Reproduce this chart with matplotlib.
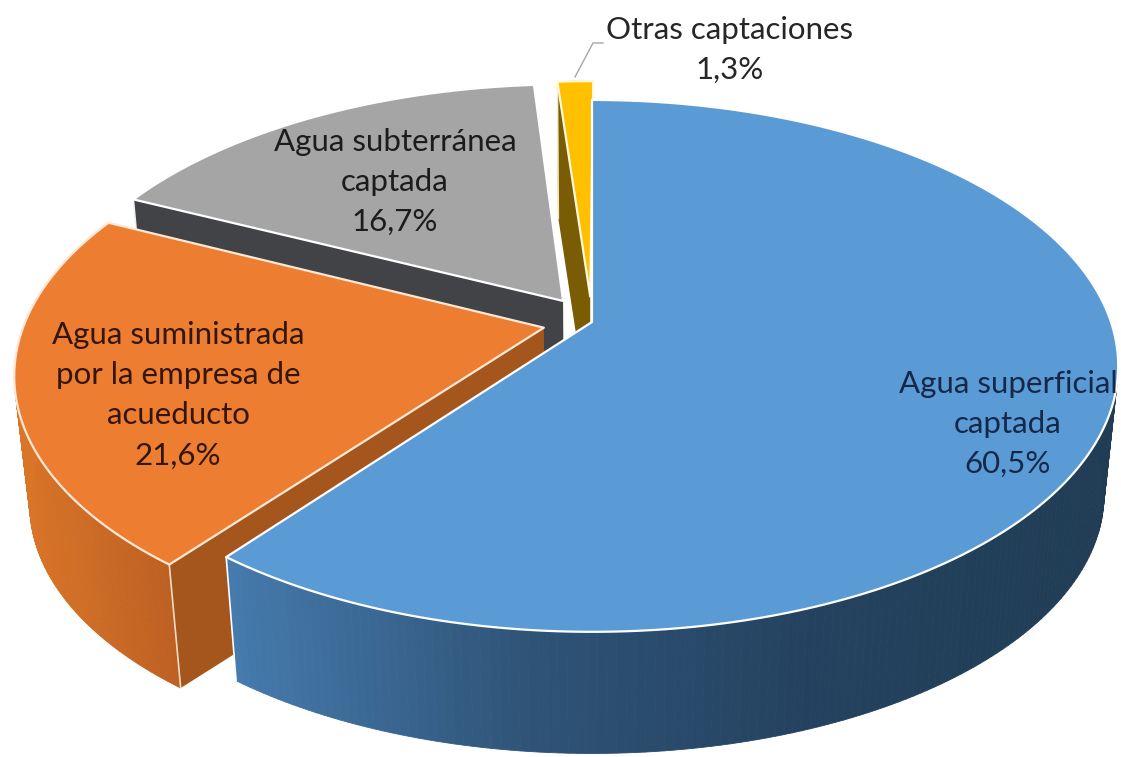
import numpy as np
import matplotlib
matplotlib.use('Agg')
import matplotlib.pyplot as plt
from matplotlib.collections import PolyCollection
from matplotlib.colors import LinearSegmentedColormap
from matplotlib.patches import Polygon

labels = ['Agua superficial\ncaptada\n60,5%',
          'Agua suministrada\npor la empresa de\nacueducto\n21,6%',
          'Agua subterránea\ncaptada\n16,7%',
          'Otras captaciones\n1,3%']
values = [60.5, 21.6, 16.7, 1.3]
explode = [0, 0.095, 0.1, 0.1]

top_colors = ['#5b9bd5', '#ed7d31', '#a5a5a5', '#ffc000']
wall_colors = ['#2c5070', '#a5561d', '#414347', '#7a5c05']
edge_colors = ['#ffffff', '#ffe9d6', '#ffffff', '#fff8e0']
text_colors = ['#14294a', '#33160a', '#1c1c1c', '#262626']
# rim shading from left to right of the picture
rim_colors = [['#467bae', '#2f5478', '#24425f', '#213d55'],
              ['#da7528', '#bd6022'],
              ['#7c7c7c', '#7c7c7c'],
              ['#bf9000', '#bf9000']]

CX, CY = 592, 322     # centre of the pie on the picture
SX, SY = 519, 258.7   # radii before perspective
W = 0.165             # perspective strength
DEPTH = 130           # thickness of the pie
SHRINK = 0.973        # lower face looks a bit smaller


def project(px, py, z=0.0):
    # px, py on the pie plane (radius 1), z = 0 top face, z = 1 lower face
    d = 1 + W * py
    x = CX + SX * px / d
    y = CY - SY * py / d
    s = 1 - (1 - SHRINK) * z
    return CX + (x - CX) * s, CY + (y - CY) * s + DEPTH * z


fig = plt.figure(figsize=(11.21, 7.57), dpi=100, facecolor='white')
ax = fig.add_axes([0, 0, 1, 1])
ax.set_xlim(0, 1121)
ax.set_ylim(757, 0)
ax.axis('off')

edges = np.cumsum([0] + values) / 100 * 2 * np.pi

# back slices first, the big blue one goes last
z = 1
for i in [3, 2, 1, 0]:
    t = np.linspace(edges[i], edges[i + 1], 240)
    mid = (edges[i] + edges[i + 1]) / 2
    ox = explode[i] * np.sin(mid)
    oy = explode[i] * np.cos(mid)
    rx = ox + np.sin(t)
    ry = oy + np.cos(t)

    # rim, in small strips so the shading can run along x
    x0, y0 = project(rx, ry, 0)
    x1, y1 = project(rx, ry, 1)
    cmap = LinearSegmentedColormap.from_list('rim', rim_colors[i])
    strips = []
    cols = []
    xmin, xmax = x0.min(), x0.max()
    for k in range(len(t) - 1):
        strips.append([(x0[k], y0[k]), (x0[k + 1], y0[k + 1]),
                       (x1[k + 1], y1[k + 1]), (x1[k], y1[k])])
        cols.append(cmap((x0[k] - xmin) / (xmax - xmin)))
    ax.add_collection(PolyCollection(strips, facecolors=cols, edgecolors=cols,
                                     linewidths=0.6, zorder=z))

    # cut face at the start of the slice
    ax0, ay0 = project(ox, oy, 0)
    ax1, ay1 = project(ox, oy, 1)
    ax.add_patch(Polygon([(ax0, ay0), (x0[0], y0[0]), (x1[0], y1[0]), (ax1, ay1)],
                         facecolor=wall_colors[i], edgecolor='none', zorder=z + 0.1))
    if i != 0:
        ax.plot([x0[0], x1[0]], [y0[0], y1[0]], color=edge_colors[i], lw=1.2,
                alpha=0.9, zorder=z + 0.2)

    # top face
    pts = [(ax0, ay0)] + list(zip(x0, y0))
    ax.add_patch(Polygon(pts, closed=True, facecolor=top_colors[i],
                         edgecolor=edge_colors[i], linewidth=1.6,
                         joinstyle='round', zorder=z + 0.3))
    z += 1

# white line down the blue corner
bx0, by0 = project(np.sin(edges[1]), np.cos(edges[1]), 0)
bx1, by1 = project(np.sin(edges[1]), np.cos(edges[1]), 1)
ax.plot([bx0, bx1], [by0, by1], color='white', lw=1.2, zorder=z)

# leader line of the small slice
ax.plot([603, 593, 575], [43, 43, 77], color='#a6a6a6', lw=1, zorder=z)

label_pos = [(1008, 424), (178, 395), (395, 182), (730, 50)]
for lab, pos, c in zip(labels, label_pos, text_colors):
    ax.text(pos[0], pos[1], lab, ha='center', va='center', color=c,
            family='Lato', fontsize=22.5, linespacing=1.53, zorder=z + 1)

fig.savefig('out.png', dpi=100, facecolor='white')
